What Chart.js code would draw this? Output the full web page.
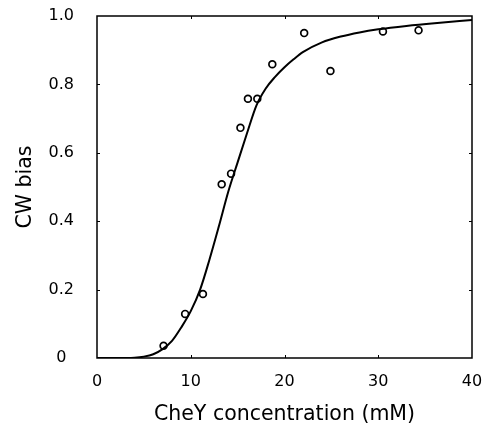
<!DOCTYPE html>
<html>
<head>
<meta charset="utf-8">
<script src="https://cdn.jsdelivr.net/npm/chart.js@4/dist/chart.umd.min.js"></script>
<style>
  html, body { margin: 0; padding: 0; background: #fff; }
  #wrap { width: 488px; height: 427px; position: relative; }
</style>
</head>
<body>
<div id="wrap"><canvas id="c" width="488" height="427"></canvas></div>
<script>
// Observed data points (open circles)
const obsX = [7.1, 9.4, 11.3, 13.3, 14.3, 15.3, 16.1, 17.1, 18.7, 22.1, 24.9, 30.5, 34.3];
const obsY = [0.036, 0.129, 0.187, 0.508, 0.539, 0.673, 0.758, 0.758, 0.859, 0.950, 0.839, 0.955, 0.958];

// Fitted curve
const curveX = [0, 2, 4, 5, 6, 7, 8, 9, 10, 11, 12, 13, 14, 15, 16, 17, 18, 19, 20, 21, 22, 24, 26, 28, 30, 33, 36, 40];
const curveY = [0, 0, 0.001, 0.004, 0.011, 0.026, 0.05, 0.09, 0.137, 0.2, 0.288, 0.385, 0.486, 0.572, 0.657, 0.738, 0.788, 0.822, 0.85, 0.874, 0.895, 0.923, 0.94, 0.952, 0.961, 0.971, 0.979, 0.988];

// Tick labels
const xTickLabels = ['0', '10', '20', '30', '40'];
const yTickLabels = ['0', '0.2', '0.4', '0.6', '0.8', '1.0'];

const FONT = "'DejaVu Sans', 'Liberation Sans', Arial, sans-serif";

const framePlugin = {
  id: 'frame',
  afterDatasetsDraw(chart) {
    const ctx = chart.ctx;
    const a = chart.chartArea;
    const xs = chart.scales.x, ys = chart.scales.y;
    ctx.save();
    ctx.strokeStyle = '#000';
    ctx.lineWidth = 1.5;
    ctx.strokeRect(a.left, a.top, a.right - a.left, a.bottom - a.top);
    ctx.lineWidth = 1;
    const tl = 3;
    ctx.beginPath();
    xs.ticks.forEach((t, i) => {
      if (i === 0 || i === xs.ticks.length - 1) return;
      const px = Math.round(xs.getPixelForValue(t.value)) + 0.5;
      ctx.moveTo(px, a.bottom); ctx.lineTo(px, a.bottom - tl);
      ctx.moveTo(px, a.top); ctx.lineTo(px, a.top + tl);
    });
    ys.ticks.forEach((t, i) => {
      if (i === 0 || i === ys.ticks.length - 1) return;
      const py = Math.round(ys.getPixelForValue(t.value)) + 0.5;
      ctx.moveTo(a.left, py); ctx.lineTo(a.left + tl, py);
      ctx.moveTo(a.right, py); ctx.lineTo(a.right - tl, py);
    });
    ctx.stroke();
    ctx.restore();
  }
};

new Chart(document.getElementById('c'), {
  type: 'scatter',
  data: {
    datasets: [
      {
        type: 'line',
        label: 'fit',
        data: curveX.map((x, i) => ({ x: x, y: curveY[i] })),
        borderColor: '#000',
        borderWidth: 2,
        pointRadius: 0,
        fill: false,
        cubicInterpolationMode: 'monotone',
        order: 2
      },
      {
        label: 'data',
        data: obsX.map((x, i) => ({ x: x, y: obsY[i] })),
        pointStyle: 'circle',
        pointRadius: 3.4,
        pointBorderWidth: 1.7,
        borderColor: '#000',
        backgroundColor: 'rgba(0,0,0,0)',
        order: 1
      }
    ]
  },
  options: {
    responsive: false,
    animation: false,
    devicePixelRatio: 1,
    layout: { padding: { left: 0, right: 16, top: 16, bottom: 0 } },
    plugins: { legend: { display: false }, tooltip: { enabled: false } },
    scales: {
      x: {
        type: 'linear',
        min: 0, max: 40,
        grid: { display: false, drawTicks: false },
        border: { display: false },
        ticks: {
          stepSize: 10,
          padding: 14,
          color: '#000',
          font: { family: FONT, size: 16 },
          maxRotation: 0,
          callback: (v) => xTickLabels[Math.round(v / 10)]
        },
        title: {
          display: true,
          text: 'CheY concentration (mM)',
          color: '#000',
          font: { family: FONT, size: 20.5 },
          padding: { top: 4, bottom: 0 }
        },
        afterFit: (s) => { s.height = 69; s.paddingLeft = 0; s.paddingRight = 0; }
      },
      y: {
        type: 'linear',
        min: 0, max: 1,
        grid: { display: false, drawTicks: false },
        border: { display: false },
        ticks: {
          stepSize: 0.2,
          padding: 23,
          crossAlign: 'center',
          color: '#000',
          font: { family: FONT, size: 16 },
          callback: (v) => yTickLabels[Math.round(v * 5)]
        },
        title: {
          display: true,
          text: 'CW bias',
          color: '#000',
          font: { family: FONT, size: 20.5 },
          padding: { top: 13, bottom: 0 }
        },
        afterFit: (s) => { s.width = 97; s.paddingTop = 0; s.paddingBottom = 0; }
      }
    }
  },
  plugins: [framePlugin]
});
</script>
</body>
</html>
